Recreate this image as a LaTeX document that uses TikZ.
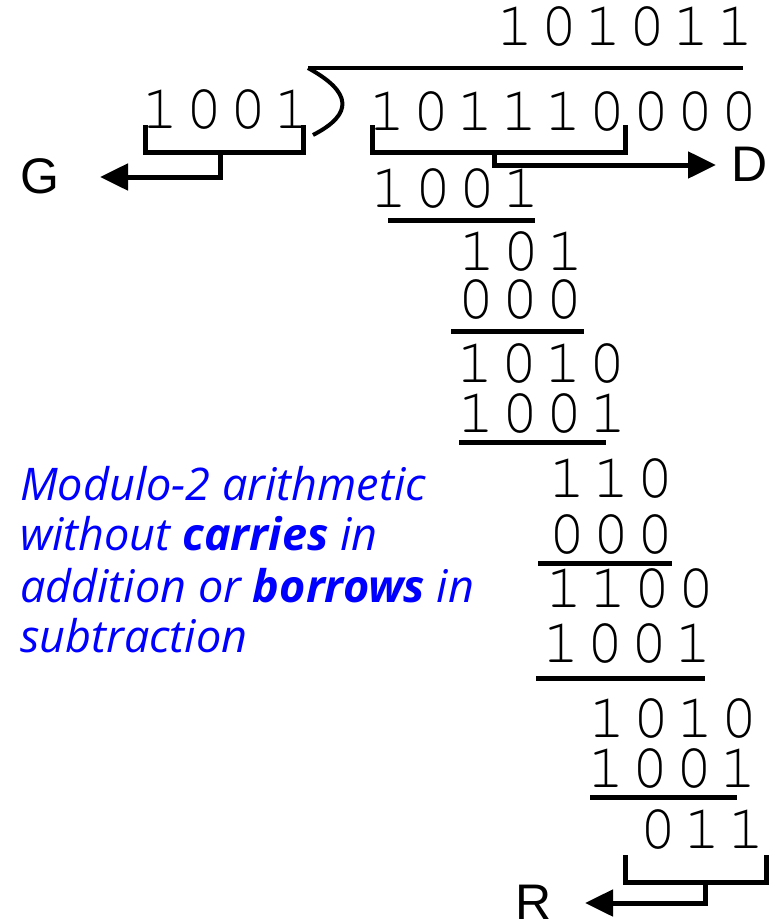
\documentclass[tikz,border=0pt]{standalone}
\usepackage{fontspec}
\usetikzlibrary{arrows.meta}
\newfontfamily\bitfont{texgyrecursor-regular.otf}
\newfontfamily\labelfont{Liberation Sans}
\newfontfamily\notefont{Open Sans}
\definecolor{noteblue}{RGB}{0,0,255}
% one digit per 44pt column
\def\bitrow#1{\bitrowi#1\relax}
\def\bitrowi#1{\ifx#1\relax\else\makebox[44pt]{#1}\expandafter\bitrowi\fi}
\tikzset{
  bits/.style={inner sep=0pt, anchor=base, text height=34pt, text depth=0pt, font={\bitfont\fontsize{63}{63}\selectfont}},
  letter/.style={inner sep=0pt, text height=34pt, text depth=0pt, font={\labelfont\fontsize{50}{50}\selectfont}},
  note/.style={inner sep=0pt, anchor=base west, text=noteblue, font={\notefont\itshape\fontsize{45}{45}\selectfont}},
  rule/.style={line width=5pt},
  brace/.style={line width=5pt, line join=miter},
  conn/.style={line width=5pt, -{Triangle[length=28pt,width=26pt]}},
}
\begin{document}
\begin{tikzpicture}[x=1pt,y=-1pt]
\useasboundingbox (0,0) rectangle (772,921);

% quotient, divisor, dividend
\node[bits] (quot) at (625,45) {\bitrow{101011}};
\node[bits] (dvsr) at (226,128) {\bitrow{1001}};
\node[bits] (dvdnd) at (563,130) {\bitrow{101110000}};
\draw[line width=4pt] (308,68) -- (743,68);
\draw[line width=4pt] (308,68) .. controls (352,92) and (354,114) .. (313,135);

% steps
\node[bits] (s1) at (455,207) {\bitrow{1001}};
\draw[rule] (388,220) -- (535,220);
\node[bits] (r1) at (521,270) {\bitrow{101}};
\node[bits] (s2) at (520,318) {\bitrow{000}};
\draw[rule] (451,331) -- (584,331);
\node[bits] (r2) at (541,382) {\bitrow{1010}};
\node[bits] (s3) at (542,432) {\bitrow{1001}};
\draw[rule] (459,442) -- (606,442);
\node[bits] (r3) at (611,497) {\bitrow{110}};
\node[bits] (s4) at (611,553) {\bitrow{000}};
\draw[rule] (538,563) -- (672,563);
\node[bits] (r4) at (630,607) {\bitrow{1100}};
\node[bits] (s5) at (627,662) {\bitrow{1001}};
\draw[rule] (536,678) -- (705,678);
\node[bits] (r5) at (673,737) {\bitrow{1010}};
\node[bits] (s6) at (672,787) {\bitrow{1001}};
\draw[rule] (590,797) -- (737,797);
\node[bits] (rem) at (702,848) {\bitrow{011}};

% brackets and arrows
\node[letter] (gen) at (40,176) {G};
\node[letter] (data) at (750,164) {D};
\node[letter] (remn) at (534,902) {R};
\draw[brace] (145,125) -- (145,152) -- (303,152) -- (303,125);
\draw[brace] (372,125) -- (372,152) -- (625,152) -- (625,125);
\draw[brace] (625,855) -- (625,882) -- (766,882) -- (766,855);
\coordinate (gstem) at (220,152);
\coordinate (gtip) at (100,177);
\coordinate (dstem) at (494,152);
\coordinate (dtip) at (716,165);
\coordinate (rstem) at (705,882);
\coordinate (rtip) at (585,903);
\draw[conn] (gstem) |- (gtip);
\draw[conn] (dstem) |- (dtip);
\draw[conn] (rstem) |- (rtip);

% note
\node[note] (note1) at (20,500) {Modulo-2 arithmetic};
\node[note] (note2) at (20,550) {without \textbf{carries} in};
\node[note] (note3) at (20,602) {addition or \textbf{borrows} in};
\node[note] (note4) at (20,652) {subtraction};
\end{tikzpicture}
\end{document}
